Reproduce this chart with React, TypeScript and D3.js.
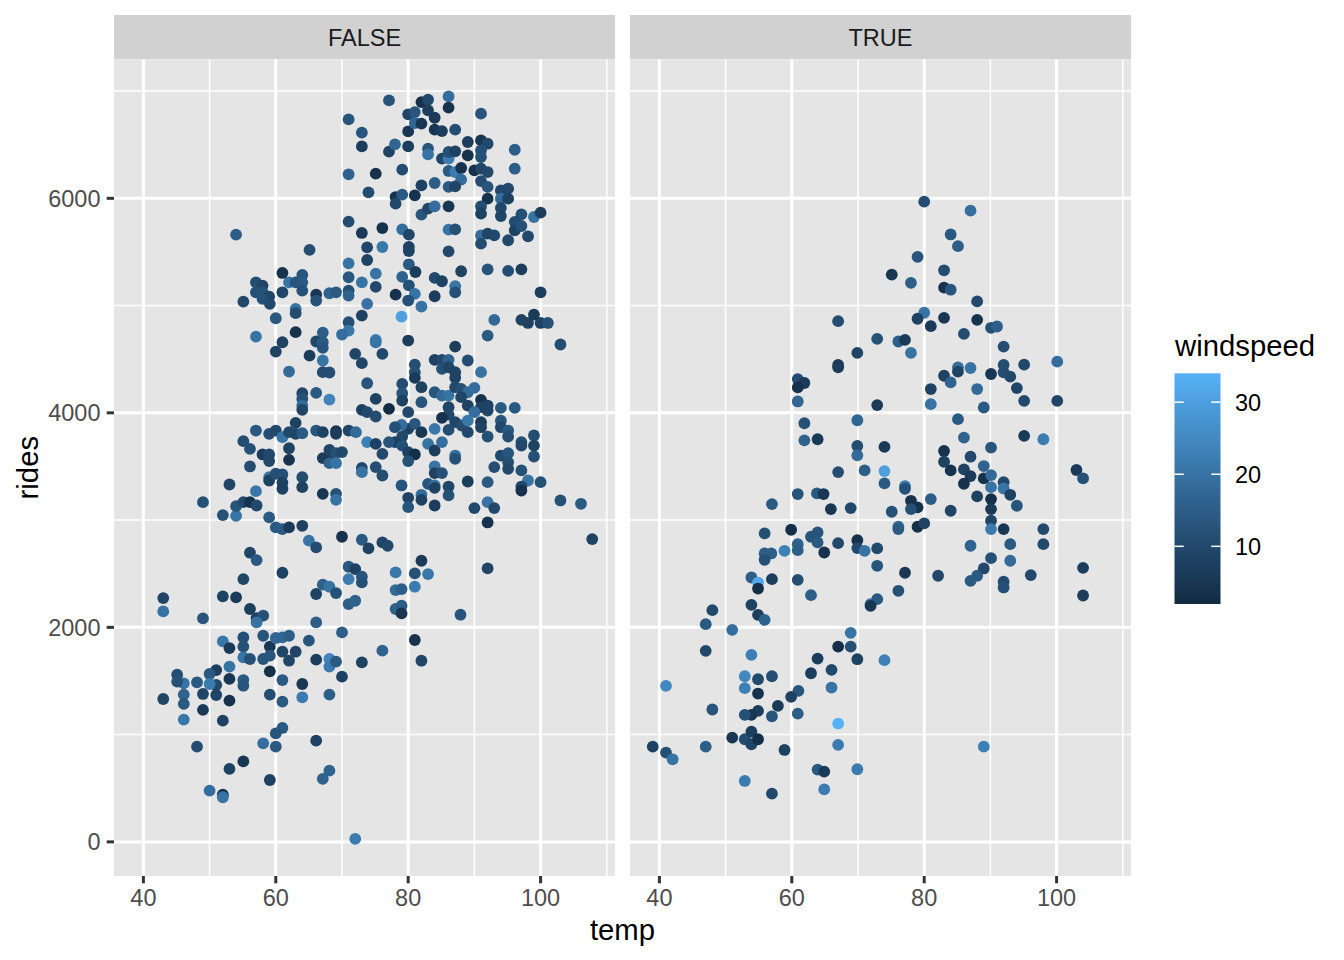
import React from "react";
import * as d3 from "d3";

// [temp, rides, windspeed]
type Pt = [number, number, number];

const panelLabels = ["FALSE", "TRUE"];

const falsePoints: Pt[] = [
  [52,3047,12],[54,3040,20],[59,3025,14],[60,2932,14],[61,2916,14],[62,2932,6],[64,2947,8],[65,2808,20],[66.1,2745,11],[70,2845,4],[73,2817,14],[74,2736,8],[76.1,2792,9],[76.9,2761,10],
  [56.1,2696,9],[57.1,2627,14],[61,2509,8],[55.1,2450,9],[43,2273,9],[43,2149,20],[52,2289,8],[54,2280,6],[56.1,2171,7],[57.1,2087,8],[58.1,2109,12],[57.1,2047,20],[49,2084,13],
  [66.1,2311,8],[67.1,2398,16],[68.1,2379,20],[69.1,2320,12],[71,2565,14],[72,2543,8],[73,2472,13],[73,2419,12],[71,2450,22],[71,2217,15],[72,2248,16],[66.1,2047,15],[70,1953,15],[76.1,1783,16],
  [52,1870,21],[53,1807,6],[55.1,1907,12],[55.1,1820,12],[55.1,1720,20],[56.1,1705,12],[58.1,1922,13],[59.1,1820,5],[60,1901,17],[61,1907,17],[62,1922,15],[65,1876,13],[61,1773,9],[63,1773,9],[62,1689,9],[58.1,1705,13],[59.1,1736,13],[59.1,1590,3],[66.1,1699,7],[68.1,1705,24],[68.1,1634,22],[69.1,1680,14],[70,1540,8],[73,1674,8],
  [64,1472,5],[61,1509,14],[53,1634,20],[51,1602,7],[50,1565,14],[53,1519,5],[55.1,1509,14],[55.1,1456,13],[51,1463,10],[50,1472,22],[48.1,1488,14],[46.1,1478,20],[45.1,1559,11],[45.1,1494,12],[46.1,1373,16],[46.1,1286,14],[46.1,1140,21],[43,1332,9],[49,1379,9],[51,1369,9],[53,1317,4],[49,1230,6],[52,1130,8],[59.1,1373,11],[61,1307,14],[64,1348,22],[68.1,1373,15],
  [61,1062,14],[60,1012,13],[58.1,919,19],[60,888,14],[66.1,944,8],[48.1,888,11],[55.1,751,5],[53,680,8],[59.1,577,8],[68.1,664,16],[67.1,587,16],[50,478,19],[52,441,4],[52,416,20],[72,28,22],
  [54,5662,15],[65.1,5519,11],[71,5783,11],[73,5677,6],[73.8,5543,9],[73.8,5425,8],[71,5394,20],[71,5264,14],[73,5217,20],
  [61,5304,4],[64,5286,13],[62,5217,20],[63,5217,13],[64,5217,14],[64,5140,12],[57,5217,11],[58,5186,9],[57,5124,12],[58,5124,12],[59,5084,9],[58,5062,12],[59.1,5016,10],[55.1,5037,10],[61,5124,9],[66.1,5102,5],[66.1,5047,12],[68.1,5115,16],[69.1,5124,14],[71,5140,11],[71,5093,16],[73.8,5016,20],
  [63,4969,20],[63,4929,11],[60,4882,14],[73,4907,8],[71,4845,12],[71,4767,21],[70,4730,19],[67.1,4748,15],[63,4752,4],[57,4711,20],[61,4658,8],[60,4571,8],[66.1,4665,10],[67.1,4658,14],[67.1,4606,13],[65.1,4534,7],[67.1,4488,20],[62,4385,18],[67.1,4379,11],[68.1,4376,11],[72,4550,9],[73,4463,9],[73.8,4276,13],
  [66.1,4186,14],[68.1,4124,24],[64,4183,9],[64,4130,12],[64,4068,18],[64,4028,9],[73,4028,7],[73.8,4006,10],[63,3907,8],[57,3835,14],[59,3804,11],[60,3835,10],[61,3773,20],[62,3820,10],[63,3804,9],[64,3810,14],[66.1,3835,13],[67.1,3820,8],[69.1,3829,4],[69.1,3804,7],[71,3835,9],[72.1,3820,18],[73.8,3727,23],
  [55.1,3736,11],[56.1,3664,12],[62,3670,8],[62,3562,4],[58,3612,7],[59,3612,10],[59,3550,10],[67.1,3578,7],[68.1,3578,6],[68.1,3655,9],[69.1,3624,12],[70,3634,10],[68.1,3531,16],[69.1,3531,20],[73,3487,10],[73,3447,20],[56.1,3500,11],[59,3400,20],[59,3369,8],[60,3432,12],[61,3425,12],[61,3350,8],[61,3292,8],[64,3400,11],[64,3307,8],[53,3332,9],[57,3270,21],[67.1,3245,5],[69.1,3245,12],[69.1,3189,20],[49,3167,12],[54,3130,13],[55.1,3167,10],[56.1,3167,4],[57.1,3136,10],
  [77.1,6913,13],[71,6736,13],[73,6612,13],[73,6484,7],[71,6224,16],[74,6056,11],[75.1,6230,4],[77.1,6435,9],[78,6503,17],[79.1,6267,11],[78.1,6012,4],[78.1,5950,10],[79.1,6034,14],[81,6028,4],[80,6484,7],[80,6624,5],[80,6783,9],[81,6804,13],[81,6702,17],[82,6897,4],[83,6919,10],[82,6696,5],[83,6820,7],[84,6751,6],[84,6640,5],[85.1,6627,7],[86.1,6950,19],[86.1,6845,4],[87.1,6640,11],[83,6463,13],[83,6410,20],[85.1,6370,9],[86.1,6370,22],[86.1,6432,12],[87.1,6438,8],[89,6525,7],[89,6401,4],[91,6789,13],[91,6540,5],[92,6509,10],[91,6447,12],[91,6385,12],[86.1,6255,14],[87.1,6245,22],[88,6283,4],[88,6174,18],[90,6261,4],[91,6276,9],[92,6245,10],[84,6143,15],[82,6121,8],[86.1,6106,14],[87.1,6112,9],[91,6161,11],[92,6106,13],[94,6074,10],[95.1,6090,10],[92,5997,4],[94,5997,18],[95.1,5997,8],[96.1,6453,15],[96.1,6276,15],[82,5848,13],[83,5904,9],[84,5925,19],[86.1,5925,5],[91,5925,11],[91,5857,8],[94,5910,10],[94,5835,9],[97.1,5851,12],[99,5826,20],[100,5866,7],
  [76.1,5723,4],[79.1,5711,19],[80.1,5661,9],[80.1,5546,8],[80.1,5509,8],[76.1,5546,21],[80.1,5385,14],[81.1,5313,7],[79.1,5267,16],[80.1,5189,12],[86.1,5708,20],[87.1,5711,12],[86.1,5506,10],[88,5320,8],[91,5655,19],[91,5577,11],[92,5671,9],[93,5655,10],[95.1,5609,10],[96.1,5779,11],[96.1,5702,8],[97.1,5742,12],[98.1,5646,10],[92,5338,13],[95.1,5323,11],[97.1,5338,7],[84,5258,10],[85.1,5227,8],[87.1,5180,20],[75.1,5298,20],[75.1,5174,10],
  [78.1,5102,4],[81,5109,20],[80,5047,12],[82,4991,20],[84,5087,7],[87.1,5124,12],[100,5124,7],[79,4897,30],[75.1,4680,22],[75.1,4658,20],[76.1,4550,10],[80,4674,7],[93,4866,18],[92,4720,14],[97.1,4866,8],[98.1,4838,8],[99,4916,6],[100,4838,8],[101.1,4838,12],[103,4637,11],[87.1,4618,7],[84,4494,8],[85.1,4494,10],[86.1,4494,16],[85.1,4410,12],[86.1,4425,9],[87.1,4379,8],[87.1,4326,8],[89,4488,11],[91,4379,20],[81,4450,11],[81,4379,12],[81,4326,6],[79.1,4270,11],[79.1,4183,13],[79.1,4115,8],[82,4239,8],[82,4099,13],[84,4192,13],[85.1,4161,18],[86.1,4161,20],[87.1,4239,10],[88,4224,12],[89,4192,18],[90,4233,19],[88,4146,9],[89,4068,8],[91,4121,4],[92,4068,8],[92,4022,9],[91,4053,8],[90,4006,19],[86.1,4053,9],[86.1,3984,10],[85.1,3953,4],[87.1,3913,9],[88.1,3882,11],[89,3928,21],[89,3820,10],[91,3913,7],[91,3866,8],[92,3779,12],[94,4046,14],[96.1,4046,14],[94,3928,13],[94,3866,10],[95.1,3835,14],[95.1,3779,11],[84,3851,21],[86.1,3841,11],[80,4006,10],[80,3851,8],[81,3897,13],[82,3820,5],[79,3888,19],[78,3866,12],[77.1,4037,2],[75.1,4130,8],[75.1,3966,11],[79.1,3779,10],[78,3727,8],[79.1,3695,12],[80,3633,8],[81,3612,3],[80,3550,12],[76.1,3618,10],[75.1,3711,8],[77.1,3727,13],[83,3711,20],[84,3649,7],[85.1,3727,19],[87.1,3602,19],[87.1,3571,12],[84,3500,20],[84,3438,8],[85.1,3438,12],[83,3338,13],[84,3323,20],[84,3301,8],[86.1,3313,9],[82,3236,19],[82,3189,8],[80,3208,9],[80,3121,13],[79,3323,13],[76.1,3416,11],[75.1,3494,11],[84,3136,7],[86.1,3230,12],[89,3360,7],[92,3354,14],[92,3167,20],[93,3112,10],[90,3112,10],[93,3494,11],[94,3602,10],[95.1,3624,13],[95.1,3540,12],[95.1,3478,10],[97.1,3727,12],[97.1,3695,10],[99,3789,11],[99,3695,8],[99,3593,12],[97.1,3463,12],[98.1,3369,20],[97.1,3313,10],[97.1,3276,4],[100,3354,12],[103,3183,12],[106.1,3152,14],
  [92,2978,4],[107.8,2823,8],[82,2621,6],[81,2503,12],[83,2497,21],[78.1,2512,21],[78.1,2348,18],[79,2357,15],[81,2379,22],[78.1,2171,16],[79,2202,15],[79,2130,5],[92,2550,9],[87.9,2118,13],[81,1882,4],[82,1689,9],
];

const truePoints: Pt[] = [
  [67,4855,11],[72.9,4690,12],[69.9,4559,9],[67,4446,6],[67,4424,7],[60.9,4315,11],[61.9,4278,6],[60.9,4237,4],[60.9,4106,17],[72.9,4072,6],[61.9,3903,12],[69.9,3931,17],[61.9,3744,16],[63.9,3754,6],[69.9,3691,11],[69.9,3604,18],[67,3448,11],[71,3463,15],
  [80,5969,11],[87,5885,19],[84,5663,14],[85.1,5554,15],[79,5454,13],[75.1,5289,5],[78,5211,15],[83,5329,11],[83,5167,4],[84,5148,13],[88,5039,10],[80,4933,20],[79,4877,8],[81,4808,6],[83,4886,5],[88,4867,4],[90.1,4793,12],[91,4805,15],[86,4736,11],[92,4618,11],[76.1,4665,15],[77.1,4680,6],[78,4559,20],[85.1,4424,19],[85.1,4384,8],[87,4418,20],[83,4346,8],[84,4284,16],[81,4222,8],[81,4081,20],[88,4222,18],[89,4050,14],[90.1,4362,5],[92,4446,11],[92,4378,11],[93,4337,10],[95.1,4449,10],[94,4231,9],[95.1,4112,10],[100.1,4477,19],[100.1,4112,9],[85.1,3941,14],[86,3769,16],[90.1,3676,13],[95.1,3785,6],[98,3754,22],[74,3682,6],[74,3457,30],[74,3342,14],[83,3644,4],[83,3544,8],[84,3463,4],[86,3473,8],[87,3591,10],[87,3410,6],[86,3339,4],[89,3504,16],[89,3389,4],[90.1,3420,18],[90.1,3307,20],[92,3354,10],[92,3295,20],[77.1,3317,21],[77.1,3292,12],[103,3467,6],[104,3389,12],
  [60.9,3243,13],[63.8,3249,14],[64.8,3243,5],[57,3149,14],[65.9,3103,5],[68.9,3112,10],[55.9,2876,12],[59.9,2910,3],[62.9,2845,13],[63.9,2885,13],[63.9,2792,14],[60.9,2776,16],[60.9,2720,15],[55.9,2689,15],[56.9,2689,15],[58.9,2714,23],[55.9,2630,12],[64.9,2698,4],[67,2785,10],[69.9,2813,4],[69.9,2739,10],[71,2714,20],[72.9,2736,10],[72.9,2574,13],[53.9,2465,15],[54.9,2418,32],[54.9,2362,3],[57,2449,7],[60.9,2443,11],[62.9,2300,15],[71.9,2216,20],[72.9,2263,14],[71.9,2200,5],[53.9,2210,8],[54.9,2117,7],[55.9,2070,16],[48,2160,10],[47,2030,14],[51,1977,19],[68.9,1949,20],[67,1821,3],[68.9,1821,12],[69.9,1703,8],[63.9,1709,7],[66,1604,10],[62.9,1572,7],[47,1781,10],[53.9,1744,23],[52.9,1544,25],[52.9,1433,23],[54.9,1516,10],[57,1544,11],[54.9,1383,4],[61,1408,13],[59.9,1352,8],[57.9,1268,6],[66,1439,20],[54.9,1221,7],[53.9,1184,5],[52.9,1184,12],[57,1171,13],[60.9,1196,15],[41,1454,25],[48,1234,13],[51,972,5],[52.9,957,11],[53.9,1028,7],[53.9,910,9],[54.9,957,3],[47,888,15],[58.9,857,8],[67,1103,34],[67,904,22],[39,888,8],[41,832,12],[42,770,20],[63.9,674,14],[64.9,655,6],[69.9,677,22],[52.9,568,22],[64.9,490,22],[57,450,10],
  [78,3180,4],[79,3118,4],[78,3103,12],[75.1,3078,12],[81,3196,15],[84,3087,9],[88,3221,8],[90.1,3196,3],[90.1,3103,6],[90.1,2994,9],[90.1,2916,22],[93,3236,8],[94,3134,13],[76.1,2938,18],[76.1,2916,14],[79,2938,3],[80,2969,8],[87,2761,16],[92,2916,5],[93,2776,14],[93,2621,18],[90.1,2645,12],[89,2549,10],[88,2481,14],[87,2434,14],[92,2425,11],[92,2372,12],[96.1,2487,10],[98,2916,10],[98,2776,10],[104,2555,7],[104,2297,7],[77.1,2509,5],[82.1,2481,10],[76.1,2341,12],[74,1694,23],[89,888,23],
];

const xMajor = [40, 60, 80, 100];
const xMinor = [50, 70, 90, 110];
const yMajor = [0, 2000, 4000, 6000];
const yMinor = [1000, 3000, 5000, 7000];
const windTicks = [10, 20, 30];
const windRange = [2, 34];
const colourLow = "#132B43";
const colourHigh = "#56B1F7";

const FONT = "'Liberation Sans', Arial, Helvetica, sans-serif";

function expand(ext: [number, number]): [number, number] {
  const d = (ext[1] - ext[0]) * 0.05;
  return [ext[0] - d, ext[1] + d];
}

export default function App() {
  const all = [...falsePoints, ...truePoints];
  const xDom = expand(d3.extent(all, (d) => d[0]) as [number, number]);
  const yDom = expand(d3.extent(all, (d) => d[1]) as [number, number]);

  const panels = [
    { x0: 114, x1: 615, data: falsePoints, label: panelLabels[0] },
    { x0: 630, x1: 1131, data: truePoints, label: panelLabels[1] },
  ];
  const top = 59.3;
  const bottom = 876;
  const stripTop = 15;

  const y = d3.scaleLinear().domain(yDom).range([bottom, top]);
  const interp = d3.interpolateLab(colourLow, colourHigh);
  const cNorm = d3.scaleLinear().domain(windRange).range([0, 1]).clamp(true);
  const colour = (w: number) => interp(cNorm(w));

  // legend
  const barX = 1174.5;
  const barW = 46;
  const barTop = 373.3;
  const barBottom = 604;
  const wy = d3.scaleLinear().domain(windRange).range([barBottom, barTop]);
  const stops = d3.range(0, 21).map((i) => i / 20);

  return (
    <svg
      width={1344}
      height={960}
      style={{ position: "absolute", left: 0, top: 0, display: "block", background: "#fff" }}
      fontFamily={FONT}
    >
      <defs>
        <linearGradient id="wgrad" x1="0" y1="1" x2="0" y2="0">
          {stops.map((s) => (
            <stop key={s} offset={s} stopColor={interp(s)} />
          ))}
        </linearGradient>
      </defs>
      <rect x={0} y={0} width={1344} height={960} fill="#ffffff" />
      {panels.map((p, pi) => {
        const x = d3.scaleLinear().domain(xDom).range([p.x0, p.x1]);
        return (
          <g key={pi}>
            <rect x={p.x0} y={stripTop} width={p.x1 - p.x0} height={top - stripTop} fill="#D1D1D1" />
            <text
              x={(p.x0 + p.x1) / 2}
              y={46}
              textAnchor="middle"
              fontSize={23.5}
              fill="#1A1A1A"
            >
              {p.label}
            </text>
            <rect x={p.x0} y={top} width={p.x1 - p.x0} height={bottom - top} fill="#E5E5E5" />
            {xMinor.map((t) => (
              <line key={"xm" + t} x1={x(t)} x2={x(t)} y1={top} y2={bottom} stroke="#fff" strokeWidth={1.5} />
            ))}
            {yMinor.map((t) => (
              <line key={"ym" + t} x1={p.x0} x2={p.x1} y1={y(t)} y2={y(t)} stroke="#fff" strokeWidth={1.5} />
            ))}
            {xMajor.map((t) => (
              <line key={"xM" + t} x1={x(t)} x2={x(t)} y1={top} y2={bottom} stroke="#fff" strokeWidth={3} />
            ))}
            {yMajor.map((t) => (
              <line key={"yM" + t} x1={p.x0} x2={p.x1} y1={y(t)} y2={y(t)} stroke="#fff" strokeWidth={3} />
            ))}
            <g>
              {p.data.map((d, i) => (
                <circle key={i} cx={x(d[0])} cy={y(d[1])} r={5.9} fill={colour(d[2])} />
              ))}
            </g>
            {xMajor.map((t) => (
              <g key={"xt" + t}>
                <line x1={x(t)} x2={x(t)} y1={bottom} y2={bottom + 7.3} stroke="#333333" strokeWidth={3} />
                <text x={x(t)} y={906} textAnchor="middle" fontSize={23.5} fill="#4D4D4D">
                  {t}
                </text>
              </g>
            ))}
          </g>
        );
      })}
      {yMajor.map((t) => (
        <g key={"yt" + t}>
          <line x1={114 - 7.3} x2={114} y1={y(t)} y2={y(t)} stroke="#333333" strokeWidth={3} />
          <text x={100.5} y={y(t) + 8.4} textAnchor="end" fontSize={23.5} fill="#4D4D4D">
            {t}
          </text>
        </g>
      ))}
      <text x={622.5} y={940} textAnchor="middle" fontSize={29.3} fill="#000">
        temp
      </text>
      <text transform={`translate(38,${(top + bottom) / 2}) rotate(-90)`} textAnchor="middle" fontSize={29.3} fill="#000">
        rides
      </text>
      {/* legend */}
      <text x={1175} y={356} fontSize={29.3} fill="#000">
        windspeed
      </text>
      <rect x={barX} y={barTop} width={barW} height={barBottom - barTop} fill="url(#wgrad)" />
      {windTicks.map((t) => (
        <g key={"wt" + t}>
          <line x1={barX} x2={barX + barW / 5} y1={wy(t)} y2={wy(t)} stroke="#fff" strokeWidth={1.5} />
          <line x1={barX + barW - barW / 5} x2={barX + barW} y1={wy(t)} y2={wy(t)} stroke="#fff" strokeWidth={1.5} />
          <text x={1235} y={wy(t) + 9} fontSize={23.5} fill="#000">
            {t}
          </text>
        </g>
      ))}
    </svg>
  );
}
